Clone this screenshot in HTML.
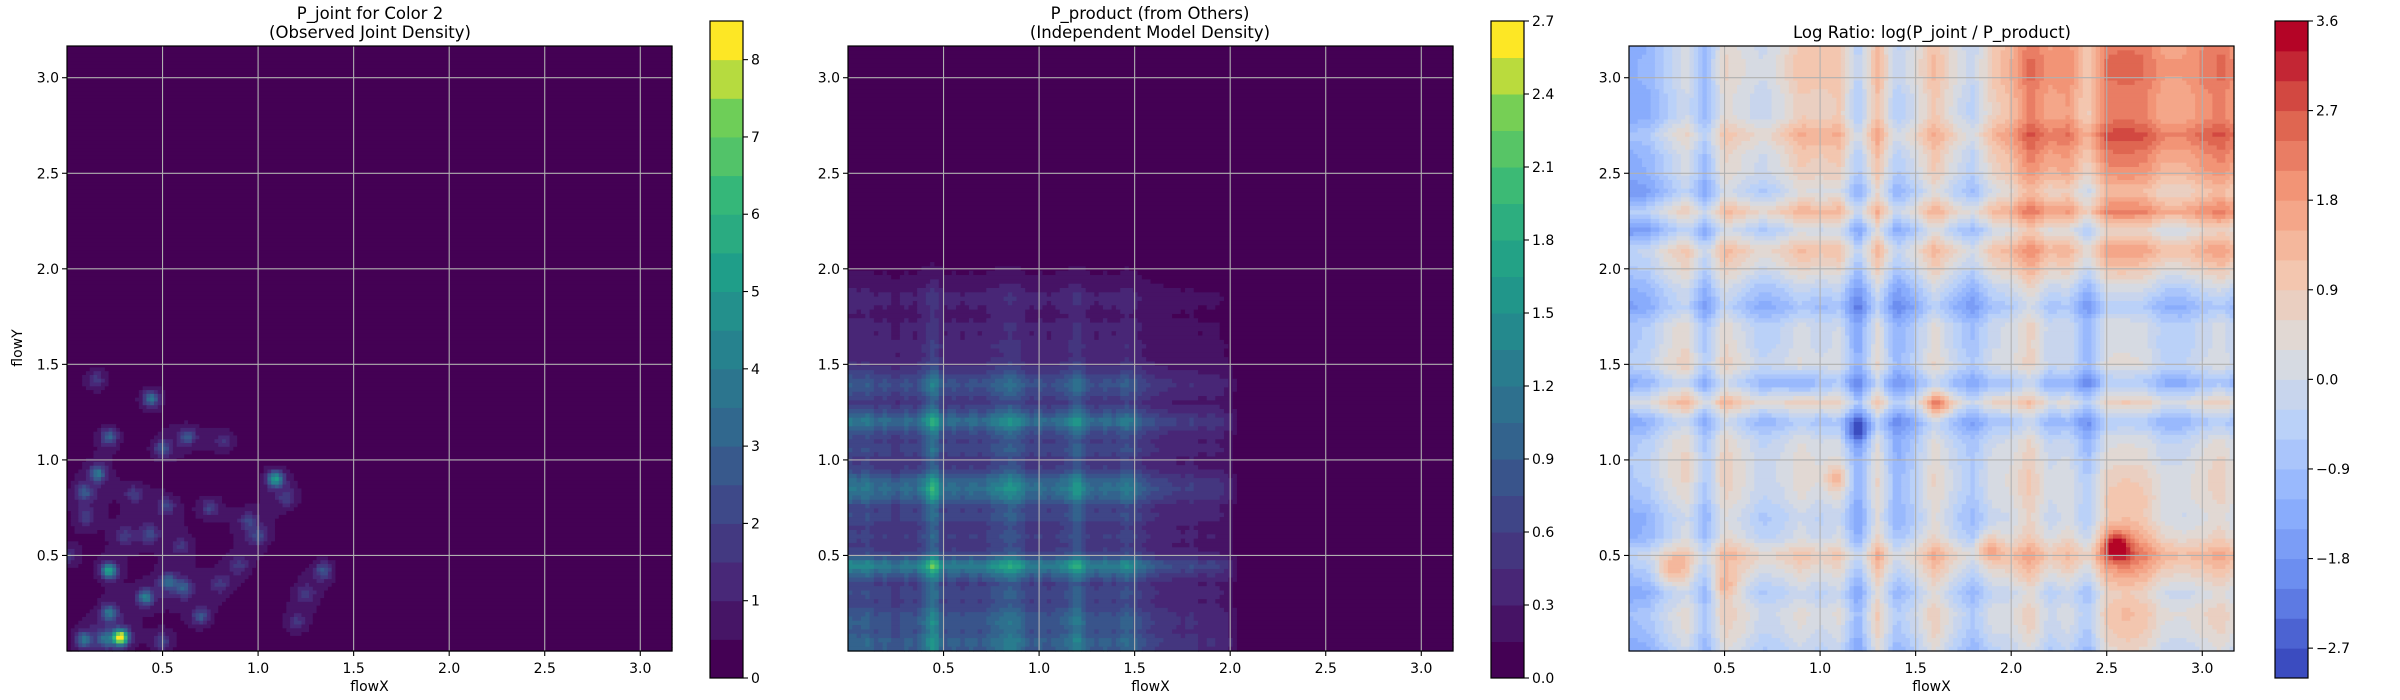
<!DOCTYPE html>
<html><head><meta charset="utf-8"><style>
html,body{margin:0;padding:0;background:#fff}
svg{display:block;font-family:"DejaVu Sans","Liberation Sans",sans-serif}
</style></head><body>
<svg id="fig" width="2400" height="700" viewBox="0 0 2400 700" xmlns="http://www.w3.org/2000/svg">
<rect width="2400" height="700" fill="#fff"/>
<text x="370" y="19" font-size="16.5" text-anchor="middle">P_joint for Color 2</text>
<text x="370" y="38" font-size="16.5" text-anchor="middle">(Observed Joint Density)</text>
<text x="1150" y="19" font-size="16.5" text-anchor="middle">P_product (from Others)</text>
<text x="1150" y="38" font-size="16.5" text-anchor="middle">(Independent Model Density)</text>
<text x="1932" y="38" font-size="16.5" text-anchor="middle">Log Ratio: log(P_joint / P_product)</text>
<text x="22" y="348" font-size="14" text-anchor="middle" transform="rotate(-90 22 348)">flowY</text>
</svg>
<script>
// ---- data ----
const axisMax = 3.166;
const tickVals = [0.5,1.0,1.5,2.0,2.5,3.0];
const tickLabels = ["0.5","1.0","1.5","2.0","2.5","3.0"];
// panel 1 blobs
const blobX = [0.28,0.22,1.09,0.44,0.09,0.22,0.41,0.16,0.22,0.53,0.61,0.50,0.63,0.09,0.20,0.70,1.34,0.50,0.43,1.00,0.52,0.75,1.15,0.95,0.35,0.15,0.82,0.00,1.25,1.20,0.80,0.30,0.10,0.60,0.90];
const blobY = [0.07,0.42,0.90,1.32,0.06,0.20,0.28,0.93,1.12,0.36,0.33,1.06,1.12,0.83,0.06,0.18,0.42,0.05,0.61,0.60,0.76,0.75,0.80,0.68,0.82,1.42,1.10,0.50,0.30,0.15,0.35,0.60,0.70,0.55,0.45];
const blobAmp = [8.5,5.0,4.5,3.0,3.0,3.0,3.5,3.0,2.5,2.5,2.0,2.0,2.0,2.0,2.5,2.0,2.0,1.5,1.5,1.5,1.5,1.5,1.2,1.2,1.2,1.2,1.0,1.2,1.0,1.0,1.0,1.0,1.0,1.0,1.0];
const levels1 = [0,0.5,1,1.5,2,2.5,3,3.5,4,4.5,5,5.5,6,6.5,7,7.5,8,8.5];
const cbTicks1 = [0,1,2,3,4,5,6,7,8];
// panel 2 marginals (step 0.05)
const margY = [1.0,1.1,0.9,1.0,0.9,0.7,0.8,0.7,1.1,1.6,0.8,0.6,0.7,0.6,0.8,0.7,1.1,1.3,1.1,0.7,0.6,0.8,0.7,0.9,1.35,0.9,0.6,0.8,0.95,0.7,0.5,0.4,0.45,0.35,0.4,0.3,0.35,0.4,0.3,0.2,0.15,0.05,0.08,0.1];
const margX = [1.0,0.9,1.0,0.8,0.9,0.7,0.9,0.8,1.1,1.6,0.8,0.9,0.8,0.9,0.8,1.0,1.1,1.25,1.1,0.8,0.9,0.8,0.9,1.0,1.35,0.9,0.8,0.9,0.8,1.05,0.9,0.7,0.6,0.55,0.5,0.45,0.5,0.4,0.45,0.4,0.3,0.05,0.02,0.12];
const levels2 = [0,0.15,0.3,0.45,0.6,0.75,0.9,1.05,1.2,1.35,1.5,1.65,1.8,1.95,2.1,2.25,2.4,2.55,2.7];
const cbTicks2 = [0,0.3,0.6,0.9,1.2,1.5,1.8,2.1,2.4,2.7];
const cbLabels2 = ["0.0","0.3","0.6","0.9","1.2","1.5","1.8","2.1","2.4","2.7"];
// panel 3 log ratio
const baseGrid = [
 [-0.4,0.3,-0.5,0,0.1,-0.3,0.4,0],
 [-0.4,0.3,-0.4,0.1,0.3,0.3,1.3,0.3],
 [-0.1,0.1,-0.4,-0.7,0.0,-0.3,-0.4,-0.2],
 [0.1,0.2,-0.5,-0.4,0.1,-0.5,-0.5,-0.6],
 [-0.1,-0.1,-0.6,-0.5,-0.1,0.0,-0.4,-0.5],
 [-0.3,0.5,0.3,0.1,0.6,1.0,0.8,0.9],
 [-0.8,0.1,0.3,0.1,0.3,1.5,1.5,1.4],
 [-0.8,0.1,0.4,0.3,0.5,1.7,1.6,1.6]];
const colStripe = [-0.7,-0.5,0.2,0.6,-0.8,0.6,0.0,-0.4,0.0,0.6,0.4,0.6,-1.0,0.9,-0.8,-0.2,0.7,-0.2,-0.9,0.0,0.2,0.9,0.0,0.2,-0.8,0.6,0.7,0.6,0.0,0.0,0.4,0.7];
const rowStripe = [-0.4,0.0,0.2,-0.4,0.2,0.8,-0.2,-0.4,0.0,0.2,0.2,0.0,-0.8,0.7,-0.8,0.2,0.0,0.0,-0.8,-0.4,0.2,0.6,-0.8,0.6,-0.6,0.0,0.2,0.7,0.0,0.0,0.2,0.2];
const hotX = [2.55,1.62,1.88,1.20,0.50,0.22,1.09,0.90];
const hotY = [0.55,1.28,0.55,1.15,0.33,0.42,0.90,1.40];
const hotAmp = [1.8,1.2,1.0,-1.2,1.0,1.2,1.0,-0.8];
const levels3 = [];
for (let k=0;k<=22;k++) levels3.push(-3.0+0.3*k);
const cbTicks3 = [-2.7,-1.8,-0.9,0,0.9,1.8,2.7,3.6];
const cbLabels3 = ["−2.7","−1.8","−0.9","0.0","0.9","1.8","2.7","3.6"];

// ---- helpers ----
const NS="http://www.w3.org/2000/svg";
const fig=document.getElementById('fig');
function mk(tag,attrs,parent){const e=document.createElementNS(NS,tag);for(const k in attrs)e.setAttribute(k,attrs[k]);(parent||fig).appendChild(e);return e;}
function hex(c){return [parseInt(c.slice(1,3),16),parseInt(c.slice(3,5),16),parseInt(c.slice(5,7),16)];}
function cmapFn(stops){const s=stops.map(x=>[x[0],hex(x[1])]);return t=>{t=Math.max(0,Math.min(1,t));for(let i=1;i<s.length;i++){if(t<=s[i][0]){const a=s[i-1],b=s[i],f=(t-a[0])/(b[0]-a[0]);return 'rgb('+[0,1,2].map(j=>Math.round(a[1][j]+(b[1][j]-a[1][j])*f)).join(',')+')';}}return 'rgb('+s[s.length-1][1].join(',')+')';};}
const viridis=cmapFn([[0,'#440154'],[0.125,'#482878'],[0.25,'#3e4989'],[0.375,'#31688e'],[0.5,'#26828e'],[0.625,'#1f9e89'],[0.75,'#35b779'],[0.875,'#6ece58'],[1,'#fde725']]);
const coolwarm=cmapFn([[0,'#3b4cc0'],[0.125,'#6788ee'],[0.25,'#8db0fe'],[0.375,'#b8d0f9'],[0.5,'#dddcdc'],[0.625,'#f4c5ad'],[0.75,'#f49a7b'],[0.875,'#dc5d4a'],[1,'#b40426']]);
function interp(arr,step,v){const f=v/step;const i=Math.floor(f);if(i<0)return arr[0];if(i>=arr.length-1)return i>=arr.length?0:arr[arr.length-1]*(1-(f-i));return arr[i]+(arr[i+1]-arr[i])*(f-i);}

function field1(x,y){let s=0;for(let i=0;i<blobX.length;i++){const d=(x-blobX[i])**2+(y-blobY[i])**2;s+=blobAmp[i]*Math.exp(-d/(2*0.028*0.028))+0.62*Math.exp(-d/(2*0.08*0.08));}return s;}
function field2(x,y){return interp(margX,0.05,x)*interp(margY,0.05,y);}
function field3(x,y){
  const gx=Math.max(0,Math.min(7,x/0.4-0.5)),gy=Math.max(0,Math.min(7,y/0.4-0.5));
  const ix=Math.min(6,Math.floor(gx)),iy=Math.min(6,Math.floor(gy)),fx=gx-ix,fy=gy-iy;
  let b=baseGrid[iy][ix]*(1-fx)*(1-fy)+baseGrid[iy][ix+1]*fx*(1-fy)+baseGrid[iy+1][ix]*(1-fx)*fy+baseGrid[iy+1][ix+1]*fx*fy;
  b+=interp(colStripe,0.1,x)+interp(rowStripe,0.1,y);
  for(let i=0;i<hotX.length;i++){const d=(x-hotX[i])**2+(y-hotY[i])**2;b+=hotAmp[i]*Math.exp(-d/(2*0.05*0.05));}
  return b;
}

const TOP=46,SIZE=605;
function panel(idx,ox,field,levels,cmap,N,cbx,cbTicks,cbLabels){
  const xS=v=>ox+v/axisMax*SIZE, yS=v=>TOP+SIZE-v/axisMax*SIZE;
  const nb=levels.length-1;
  const colorOf=b=>cmap(b/(nb-1));
  const g=mk('g',{});
  
  
  const cs=SIZE/N;
  for(let r=0;r<N;r++){
    const yv=(N-r-0.5)/N*axisMax;
    let start=0,prev=-1;
    for(let c=0;c<=N;c++){
      let b=-2;
      if(c<N){const v=field((c+0.5)/N*axisMax,yv);b=0;while(b<nb-1&&v>=levels[b+1])b++;}
      if(b!==prev){
        if(prev>=0){
          const rc=mk('rect',{x:(ox+start*cs).toFixed(2),y:(TOP+r*cs).toFixed(2),width:((c-start)*cs+0.6).toFixed(2),height:(cs+0.6).toFixed(2),fill:colorOf(prev)},g);
          
          
        }
        start=c;prev=b;
      }
    }
  }
  tickVals.forEach((t,i)=>{
    const gx=mk('line',{x1:xS(t),x2:xS(t),y1:TOP,y2:TOP+SIZE,stroke:'#b0b0b0','stroke-width':1.1});
    
    
    const gy=mk('line',{x1:ox,x2:ox+SIZE,y1:yS(t),y2:yS(t),stroke:'#b0b0b0','stroke-width':1.1});
    
    
    mk('line',{x1:xS(t),x2:xS(t),y1:TOP+SIZE,y2:TOP+SIZE+5,stroke:'#000','stroke-width':1.1});
    const tx=mk('text',{x:xS(t),y:TOP+SIZE+22,'font-size':14,'text-anchor':'middle'});
    tx.textContent=tickLabels[i];
    
    
    mk('line',{x1:ox-5,x2:ox,y1:yS(t),y2:yS(t),stroke:'#000','stroke-width':1.1});
    const ty=mk('text',{x:ox-8,y:yS(t)+5,'font-size':14,'text-anchor':'end'});
    ty.textContent=tickLabels[i];
    
    
  });
  const fr=mk('rect',{x:ox,y:TOP,width:SIZE,height:SIZE,fill:'none',stroke:'#000','stroke-width':1.2});
  
  
  const xl=mk('text',{x:ox+SIZE/2,y:691,'font-size':14,'text-anchor':'middle'});
  xl.textContent='flowX';
  
  
  const cbT=21,cbB=678,cbW=33,vmin=levels[0],vmax=levels[nb];
  const cy=v=>cbB-(v-vmin)/(vmax-vmin)*(cbB-cbT);
  const cg=mk('g',{});
  
  
  for(let b=0;b<nb;b++){
    const br=mk('rect',{x:cbx,y:cy(levels[b+1]),width:cbW,height:cy(levels[b])-cy(levels[b+1])+0.5,fill:colorOf(b)},cg);
    
    
  }
  mk('rect',{x:cbx,y:cbT,width:cbW,height:cbB-cbT,fill:'none',stroke:'#000','stroke-width':1.2});
  cbTicks.forEach((t,i)=>{
    mk('line',{x1:cbx+cbW,x2:cbx+cbW+5,y1:cy(t),y2:cy(t),stroke:'#000','stroke-width':1.1});
    const tl=mk('text',{x:cbx+cbW+8,y:cy(t)+5,'font-size':14});
    tl.textContent=cbLabels?cbLabels[i]:String(t);
    
    
  });
}
panel(1,67,field1,levels1,viridis,160,710,cbTicks1,null);
panel(2,848,field2,levels2,viridis,140,1491,cbTicks2,cbLabels2);
panel(3,1629,field3,levels3,coolwarm,140,2275,cbTicks3,cbLabels3);
</script>
</body></html>
